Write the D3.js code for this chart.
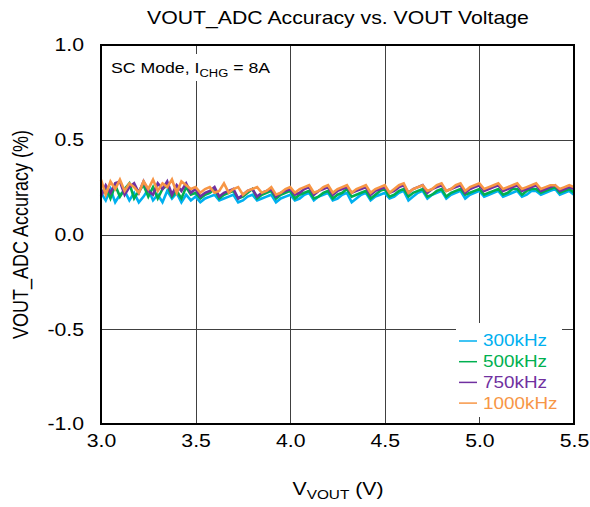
<!DOCTYPE html>
<html>
<head>
<meta charset="utf-8">
<script src="https://cdn.jsdelivr.net/npm/d3@7"></script>
<style>
  html, body { margin: 0; padding: 0; background: #fff; }
  svg { display: block; font-family: Arial, "Liberation Sans", sans-serif; }
</style>
</head>
<body>
<svg id="chart" width="590" height="507"></svg>
<script>
// ---------- data ----------
const voltages = [
  3.000,3.025,3.050,3.075,3.100,3.125,3.150,3.175,3.200,3.225,
  3.250,3.275,3.300,3.325,3.350,3.375,3.400,3.425,3.450,3.475,
  3.500,3.525,3.550,3.575,3.600,3.625,3.650,3.675,3.700,3.725,
  3.750,3.775,3.800,3.825,3.850,3.875,3.900,3.925,3.950,3.975,
  4.000,4.025,4.050,4.075,4.100,4.125,4.150,4.175,4.200,4.225,
  4.250,4.275,4.300,4.325,4.350,4.375,4.400,4.425,4.450,4.475,
  4.500,4.525,4.550,4.575,4.600,4.625,4.650,4.675,4.700,4.725,
  4.750,4.775,4.800,4.825,4.850,4.875,4.900,4.925,4.950,4.975,
  5.000,5.025,5.050,5.075,5.100,5.125,5.150,5.175,5.200,5.225,
  5.250,5.275,5.300,5.325,5.350,5.375,5.400,5.425,5.450,5.475,
  5.500
];
const acc300k = [
  0.22,0.18,0.24,0.17,0.21,0.23,0.18,0.22,0.17,0.20,0.24,0.18,0.21,0.17,0.23,0.19,0.22,0.17,0.21,0.18,0.20,
  0.17,0.19,0.20,0.21,0.18,0.19,0.20,0.21,0.17,0.18,0.20,0.21,0.18,0.19,0.20,0.21,0.17,0.19,0.20,0.21,
  0.18,0.19,0.21,0.22,0.18,0.20,0.21,0.22,0.18,0.19,0.21,0.22,0.17,0.19,0.21,0.22,0.18,0.20,0.21,0.22,
  0.19,0.20,0.22,0.23,0.18,0.20,0.22,0.23,0.19,0.21,0.22,0.23,0.19,0.21,0.22,0.23,0.19,0.21,0.22,0.23,
  0.20,0.21,0.22,0.23,0.20,0.21,0.22,0.23,0.20,0.21,0.23,0.23,0.21,0.22,0.23,0.24,0.21,0.22,0.23,0.21
];
const acc500k = [
  0.21,0.25,0.19,0.26,0.20,0.24,0.27,0.19,0.23,0.26,0.20,0.25,0.19,0.24,0.26,0.20,0.23,0.19,0.25,0.21,0.22,
  0.19,0.21,0.22,0.24,0.19,0.21,0.22,0.23,0.19,0.20,0.22,0.24,0.19,0.21,0.22,0.23,0.19,0.21,0.22,0.23,
  0.19,0.21,0.22,0.23,0.19,0.20,0.22,0.23,0.19,0.21,0.22,0.24,0.20,0.21,0.22,0.23,0.19,0.21,0.23,0.24,
  0.20,0.21,0.23,0.24,0.20,0.22,0.23,0.24,0.20,0.21,0.23,0.24,0.20,0.22,0.23,0.24,0.21,0.22,0.23,0.24,
  0.21,0.22,0.23,0.24,0.21,0.22,0.24,0.24,0.21,0.23,0.24,0.24,0.22,0.23,0.24,0.25,0.22,0.23,0.24,0.22
];
const acc750k = [
  0.20,0.26,0.22,0.27,0.28,0.21,0.25,0.27,0.22,0.28,0.23,0.21,0.27,0.24,0.28,0.21,0.26,0.23,0.27,0.22,0.24,
  0.20,0.22,0.23,0.25,0.20,0.22,0.23,0.24,0.19,0.21,0.23,0.24,0.20,0.22,0.23,0.24,0.20,0.22,0.23,0.24,
  0.21,0.22,0.24,0.25,0.21,0.23,0.24,0.25,0.21,0.23,0.24,0.25,0.22,0.23,0.24,0.25,0.21,0.23,0.24,0.25,
  0.22,0.23,0.25,0.26,0.22,0.24,0.25,0.26,0.22,0.24,0.25,0.26,0.23,0.24,0.25,0.26,0.22,0.24,0.25,0.26,
  0.23,0.24,0.25,0.26,0.23,0.24,0.25,0.26,0.23,0.24,0.25,0.26,0.23,0.24,0.25,0.26,0.23,0.24,0.25,0.24
];
const acc1000k = [
  0.29,0.21,0.28,0.24,0.29,0.23,0.27,0.25,0.22,0.28,0.24,0.29,0.23,0.27,0.25,0.29,0.22,0.28,0.26,0.24,0.25,
  0.22,0.24,0.25,0.22,0.23,0.27,0.22,0.24,0.25,0.21,0.23,0.24,0.25,0.22,0.23,0.25,0.21,0.22,0.24,0.25,
  0.22,0.24,0.25,0.26,0.22,0.23,0.25,0.26,0.22,0.24,0.25,0.26,0.22,0.24,0.25,0.26,0.22,0.24,0.25,0.26,
  0.22,0.24,0.26,0.27,0.22,0.24,0.25,0.26,0.23,0.24,0.26,0.27,0.23,0.24,0.26,0.27,0.23,0.25,0.26,0.27,
  0.24,0.25,0.26,0.27,0.24,0.25,0.26,0.27,0.24,0.25,0.26,0.27,0.24,0.25,0.26,0.26,0.24,0.25,0.26,0.25
];
const seriesNames = ["300kHz", "500kHz", "750kHz", "1000kHz"];
const seriesValues = [acc300k, acc500k, acc750k, acc1000k];
const seriesColors = ["#00B0F0", "#00B050", "#7030A0", "#F79646"];
const xTicks = [3.0, 3.5, 4.0, 4.5, 5.0, 5.5];
const yTicks = [-1.0, -0.5, 0.0, 0.5, 1.0];

// ---------- layout ----------
const SX = 1.18; // horizontal text stretch seen in reference
const FONT = "Arial, 'Liberation Sans', sans-serif";
const svg = d3.select("#chart");
const L = 101, R = 574, T = 45, B = 424;
const x = d3.scaleLinear().domain([3.0, 5.5]).range([L, R]);
const y = d3.scaleLinear().domain([-1.0, 1.0]).range([B, T]);
const fmt = d => d3.format(".1f")(d).replace("\u2212", "-");

function stretchAt(ax, ay) {
  return `translate(${ax},${ay}) scale(${SX},1) translate(${-ax},${-ay})`;
}

// grid
const grid = svg.append("g");
grid.selectAll("line.v").data(xTicks.slice(1, -1)).enter().append("line")
  .attr("x1", d => Math.round(x(d)) + 0.5).attr("x2", d => Math.round(x(d)) + 0.5)
  .attr("y1", T).attr("y2", B).attr("stroke", "#404040").attr("stroke-width", 1);
grid.selectAll("line.h").data(yTicks.slice(1, -1)).enter().append("line")
  .attr("y1", d => Math.round(y(d)) + 0.5).attr("y2", d => Math.round(y(d)) + 0.5)
  .attr("x1", L).attr("x2", R).attr("stroke", "#404040").attr("stroke-width", 1);

// annotation background
svg.append("rect").attr("x", L + 2).attr("y", 54).attr("width", 182).attr("height", 27).attr("fill", "#fff");
// legend background
svg.append("rect").attr("x", 456).attr("y", 323).attr("width", 106).attr("height", 94).attr("fill", "#fff");

// lines
const line = d3.line().x((d, i) => x(voltages[i])).y(d => y(d));
svg.append("g").selectAll("path").data(seriesValues).enter().append("path")
  .attr("d", d => line(d))
  .attr("fill", "none")
  .attr("stroke", (d, i) => seriesColors[i])
  .attr("stroke-width", 2.6)
  .attr("stroke-linejoin", "miter");

// frame
svg.append("rect").attr("x", L).attr("y", T).attr("width", R - L).attr("height", B - T)
  .attr("fill", "none").attr("stroke", "#000").attr("stroke-width", 2);

// axes
const xAxis = d3.axisBottom(x).tickValues(xTicks).tickSize(0).tickPadding(10).tickFormat(fmt);
const gx = svg.append("g").attr("transform", `translate(0,${B})`).call(xAxis);
gx.select(".domain").remove();
gx.selectAll("text").attr("font-size", 18).attr("fill", "#000").attr("font-family", FONT)
  .attr("transform", stretchAt(0, 0));

const yPad = 17;
const yAxis = d3.axisLeft(y).tickValues(yTicks).tickSize(0).tickPadding(yPad).tickFormat(fmt);
const gy = svg.append("g").attr("transform", `translate(${L},0)`).call(yAxis);
gy.select(".domain").remove();
gy.selectAll("text").attr("font-size", 18).attr("fill", "#000").attr("font-family", FONT)
  .attr("transform", stretchAt(-yPad, 0));

// title
svg.append("text").attr("x", 338).attr("y", 24).attr("text-anchor", "middle")
  .attr("font-size", 18).attr("fill", "#000").attr("transform", stretchAt(338, 24))
  .text("VOUT_ADC Accuracy vs. VOUT Voltage");

// y label
svg.append("text").attr("transform", `translate(28,${(T + B) / 2}) rotate(-90) scale(1,${SX})`)
  .attr("text-anchor", "middle").attr("font-size", 18).attr("fill", "#000")
  .text("VOUT_ADC Accuracy (%)");

// x label
const xl = svg.append("text").attr("x", 338).attr("y", 495).attr("text-anchor", "middle")
  .attr("font-size", 18).attr("fill", "#000").attr("transform", stretchAt(338, 495));
xl.append("tspan").text("V");
xl.append("tspan").attr("font-size", 13).attr("dy", 4).text("VOUT");
xl.append("tspan").attr("dy", -4).text(" (V)");

// annotation
const ann = svg.append("text").attr("x", 111).attr("y", 73).attr("font-size", 15).attr("fill", "#000")
  .attr("transform", stretchAt(111, 73));
ann.append("tspan").text("SC Mode, I");
ann.append("tspan").attr("font-size", 11).attr("dy", 4).text("CHG");
ann.append("tspan").attr("dy", -4).text(" = 8A");

// legend
const leg = svg.append("g");
seriesNames.forEach((name, i) => {
  const yy = 341 + i * 20.7;
  leg.append("line").attr("x1", 459).attr("x2", 477).attr("y1", yy).attr("y2", yy)
    .attr("stroke", seriesColors[i]).attr("stroke-width", 1.5);
  leg.append("text").attr("x", 483).attr("y", yy + 5.5).attr("font-size", 16)
    .attr("fill", seriesColors[i]).attr("transform", stretchAt(483, yy))
    .text(name);
});
</script>
</body>
</html>
